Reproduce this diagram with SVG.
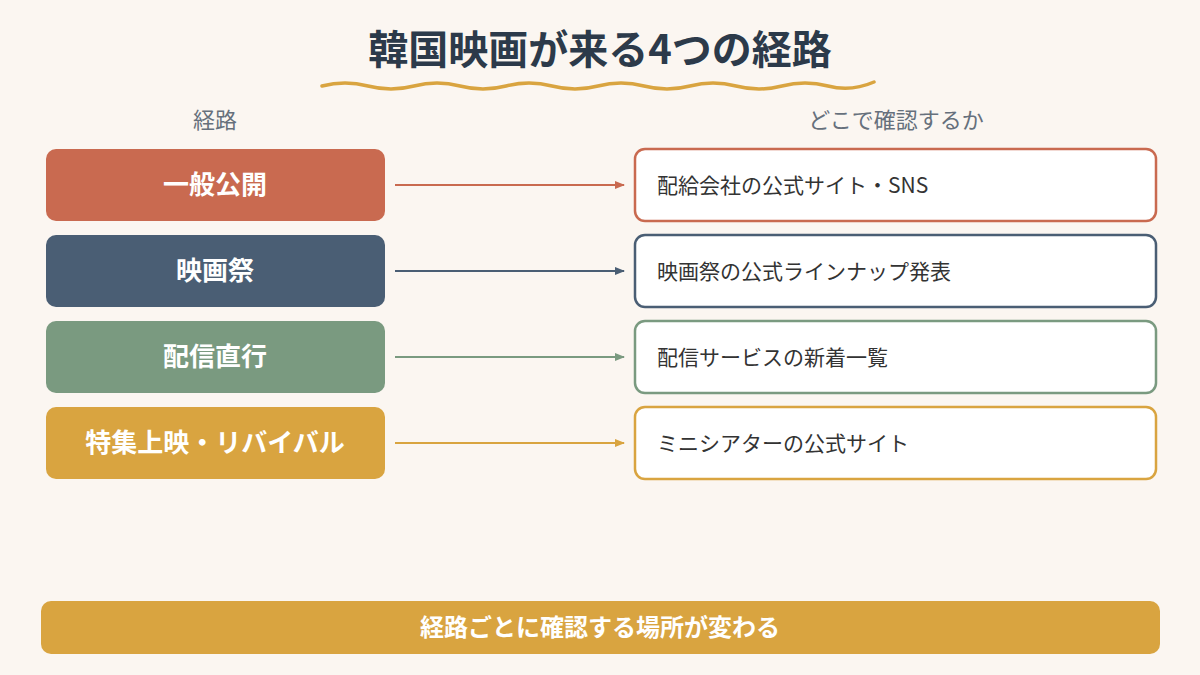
<svg xmlns="http://www.w3.org/2000/svg" width="1200" height="675" viewBox="0 0 1200 675">
<style>
text{font-family:"Noto Sans CJK JP","Noto Sans",sans-serif}
.t{font-size:40px;font-weight:bold;fill:#2c3a4a}
.h{font-size:22px;fill:#66707c}
.l{font-size:26px;font-weight:bold;fill:#fff}
.r{font-size:21px;fill:#333}
.rb{fill:#fff;stroke-width:2.5}
</style>
<defs>
<marker id="a1" markerWidth="10" markerHeight="10" refX="9" refY="5" orient="auto" markerUnits="userSpaceOnUse"><path d="M0,1 L10,5 L0,9Z" fill="#c96a50"/></marker>
<marker id="a2" markerWidth="10" markerHeight="10" refX="9" refY="5" orient="auto" markerUnits="userSpaceOnUse"><path d="M0,1 L10,5 L0,9Z" fill="#4a5e74"/></marker>
<marker id="a3" markerWidth="10" markerHeight="10" refX="9" refY="5" orient="auto" markerUnits="userSpaceOnUse"><path d="M0,1 L10,5 L0,9Z" fill="#7a9a80"/></marker>
<marker id="a4" markerWidth="10" markerHeight="10" refX="9" refY="5" orient="auto" markerUnits="userSpaceOnUse"><path d="M0,1 L10,5 L0,9Z" fill="#d9a440"/></marker>
</defs>
<rect width="1200" height="675" fill="#fbf6f1"/>
<text class="t" x="600" y="64" text-anchor="middle">韓国映画が来る4つの経路</text>
<path d="M322,86 q23,-6 46,0 t46,0 t46,0 t46,0 t46,0 t46,0 t46,0 t46,0 t46,0 t46,0 t46,0 t46,-4" fill="none" stroke="#d9a440" stroke-width="3.5" stroke-linecap="round"/>
<text class="h" x="215" y="128" text-anchor="middle">経路</text>
<text class="h" x="896" y="128" text-anchor="middle">どこで確認するか</text>
<g id="n1"><rect x="46" y="149" width="339" height="72" rx="10" fill="#c96a50"/><text class="l" x="215" y="194" text-anchor="middle">一般公開</text></g>
<g id="n2"><rect x="46" y="235" width="339" height="72" rx="10" fill="#4a5e74"/><text class="l" x="215" y="280" text-anchor="middle">映画祭</text></g>
<g id="n3"><rect x="46" y="321" width="339" height="72" rx="10" fill="#7a9a80"/><text class="l" x="215" y="366" text-anchor="middle">配信直行</text></g>
<g id="n4"><rect x="46" y="407" width="339" height="72" rx="10" fill="#d9a440"/><text class="l" x="215" y="452" text-anchor="middle">特集上映・リバイバル</text></g>
<g id="m1"><rect class="rb" x="635" y="149" width="521" height="72" rx="10" stroke="#c96a50"/><text class="r" x="657" y="193">配給会社の公式サイト・SNS</text></g>
<g id="m2"><rect class="rb" x="635" y="235" width="521" height="72" rx="10" stroke="#4a5e74"/><text class="r" x="657" y="279">映画祭の公式ラインナップ発表</text></g>
<g id="m3"><rect class="rb" x="635" y="321" width="521" height="72" rx="10" stroke="#7a9a80"/><text class="r" x="657" y="365">配信サービスの新着一覧</text></g>
<g id="m4"><rect class="rb" x="635" y="407" width="521" height="72" rx="10" stroke="#d9a440"/><text class="r" x="657" y="451">ミニシアターの公式サイト</text></g>
<g id="connectors" stroke-width="2">
<line x1="395" y1="185" x2="624" y2="185" stroke="#c96a50" marker-end="url(#a1)"/>
<line x1="395" y1="271" x2="624" y2="271" stroke="#4a5e74" marker-end="url(#a2)"/>
<line x1="395" y1="357" x2="624" y2="357" stroke="#7a9a80" marker-end="url(#a3)"/>
<line x1="395" y1="443" x2="624" y2="443" stroke="#d9a440" marker-end="url(#a4)"/>
</g>
<g id="footer"><rect x="41" y="601" width="1119" height="53" rx="10" fill="#d9a440"/><text x="600" y="636" text-anchor="middle" font-size="24" font-weight="bold" fill="#fff">経路ごとに確認する場所が変わる</text></g>
</svg>
